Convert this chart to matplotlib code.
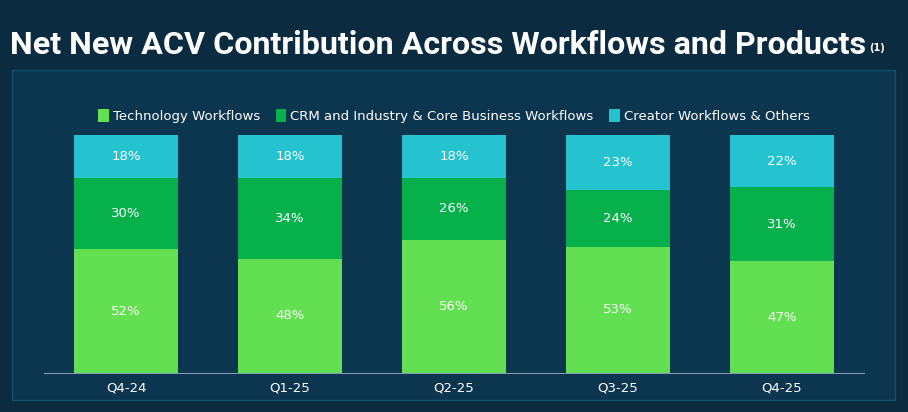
import matplotlib.pyplot as plt
from matplotlib.patches import Rectangle

quarters = ["Q4-24", "Q1-25", "Q2-25", "Q3-25", "Q4-25"]
tech = [52, 48, 56, 53, 47]
crm = [30, 34, 26, 24, 31]
creator = [18, 18, 18, 23, 22]

c_tech = "#63e052"
c_crm = "#06b04a"
c_creator = "#25c3cf"

fig = plt.figure(figsize=(9.08, 4.12), dpi=100, facecolor="#0a2b40")
fig.patches.append(Rectangle((12/908, 12/412), 883/908, 330/412, transform=fig.transFigure,
                             facecolor="#0c3550", edgecolor="#14506e", lw=1, zorder=-5))
fig.text(10/908, 1 - 45/412, "Net New ACV Contribution Across Workflows and Products",
         color="white", fontsize=23.2, fontweight="bold", family="Roboto", va="center")
fig.text(869/908, 1 - 48/412, "(1)", color="white", fontsize=7, fontweight="bold", va="center")

ax = fig.add_axes([44/908, 1 - 373/412, 820/908, 238/412])
ax.set_facecolor("none")
x = range(len(quarters))
w = 0.64
b1 = ax.bar(x, tech, w, color=c_tech, label="Technology Workflows")
b2 = ax.bar(x, crm, w, bottom=tech, color=c_crm, label="CRM and Industry & Core Business Workflows")
bot = [a + b for a, b in zip(tech, crm)]
b3 = ax.bar(x, creator, w, bottom=bot, color=c_creator, label="Creator Workflows & Others")
for i in x:
    ax.text(i, tech[i] / 2, f"{tech[i]}%", ha="center", va="center", color="white", fontsize=9.5)
    ax.text(i, tech[i] + crm[i] / 2, f"{crm[i]}%", ha="center", va="center", color="white", fontsize=9.5)
    ax.text(i, bot[i] + creator[i] / 2, f"{creator[i]}%", ha="center", va="center", color="white", fontsize=9.5)

ax.set_xlim(-0.5, 4.5)
ax.set_ylim(0, 100)
ax.set_xticks(list(x))
ax.set_xticklabels(quarters, color="white", fontsize=9.5)
ax.tick_params(axis="x", length=0, pad=6)
ax.set_yticks([])
for s in ["top", "right", "left"]:
    ax.spines[s].set_visible(False)
ax.spines["bottom"].set_color("#7a9aae")
ax.spines["bottom"].set_linewidth(0.8)

fig.legend(handles=[b1, b2, b3], loc="center", bbox_to_anchor=(454/908, 1 - 116/412), ncol=3,
           frameon=False, fontsize=9.5, labelcolor="white", handlelength=0.8, handleheight=1.1,
           handletextpad=0.3, columnspacing=1.2)

fig.savefig("out.png", dpi=100, facecolor=fig.get_facecolor())
